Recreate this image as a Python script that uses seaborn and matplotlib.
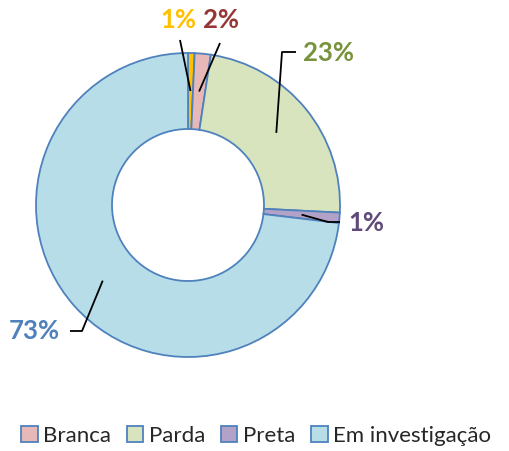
import numpy as np
import matplotlib
matplotlib.use("Agg")
import matplotlib.pyplot as plt
from matplotlib.patches import Patch
import seaborn as sns

categories = ["Amarela", "Branca", "Parda", "Preta", "Em investigação"]
values = [0.7, 1.7, 23.4, 1.1, 73.1]
colors = ["#FFC000", "#E6B9B8", "#D7E4BD", "#B3A2C7", "#B7DEE8"]
label_colors = ["#FFC000", "#953735", "#77933C", "#604A7B", "#4F81BD"]
legend_items = ["Branca", "Parda", "Preta", "Em investigação"]

sns.set_theme(style="white")
plt.rcParams["font.family"] = ["Lato", "DejaVu Sans"]

W, H = 509, 451
cx, cy, R = 188, 205, 152

fig = plt.figure(figsize=(W / 100, H / 100), dpi=100)
ax = fig.add_axes([0, 0, 1, 1])


def px(x, y):
    # pixel position -> data coords
    return (x - cx) / R, (cy - y) / R


wedges, _ = ax.pie(values, colors=colors, startangle=90, counterclock=False,
                   radius=1, wedgeprops=dict(width=0.5, edgecolor="#4F81BD", linewidth=1.3))
ax.set_xlim(-cx / R, (W - cx) / R)
ax.set_ylim(-(H - cy) / R, cy / R)
ax.set_aspect("equal")
ax.axis("off")

# label layout: text centre, elbow point, line end (pixels)
layout = [
    ((178, 20), None, (180, 40)),
    ((221, 20), None, (220, 43)),
    ((328, 53), (282, 52), (296, 52)),
    ((366, 223), (328, 222), (340, 222)),
    ((34, 331), (82, 331), (70, 331)),
]

total = sum(values)
cum = np.cumsum([0] + values)
for i, v in enumerate(values):
    mid = (cum[i] + v / 2) / total * 360
    ang = np.deg2rad(90 - mid)
    ax0, ay0 = 0.75 * np.cos(ang), 0.75 * np.sin(ang)
    (tx, ty), elbow, end = layout[i]
    pts = [(ax0, ay0)]
    if elbow is not None:
        pts.append(px(*elbow))
    pts.append(px(*end))
    xs, ys = zip(*pts)
    ax.plot(xs, ys, color="black", lw=1.3, solid_capstyle="butt")
    ax.text(*px(tx, ty), f"{round(v / total * 100):.0f}%", color=label_colors[i],
            fontsize=18.5, fontweight="bold", ha="center", va="center")

handles = [Patch(facecolor=colors[categories.index(c)], edgecolor="#4F81BD", linewidth=1.3)
           for c in legend_items]
fig.legend(handles, legend_items, loc="center", bbox_to_anchor=(256 / W, 1 - 436 / H),
           ncol=4, frameon=False, fontsize=16, handlelength=0.75, handleheight=0.75,
           handletextpad=0.25, columnspacing=0.7, borderpad=0)

fig.savefig("out.png", dpi=100)
